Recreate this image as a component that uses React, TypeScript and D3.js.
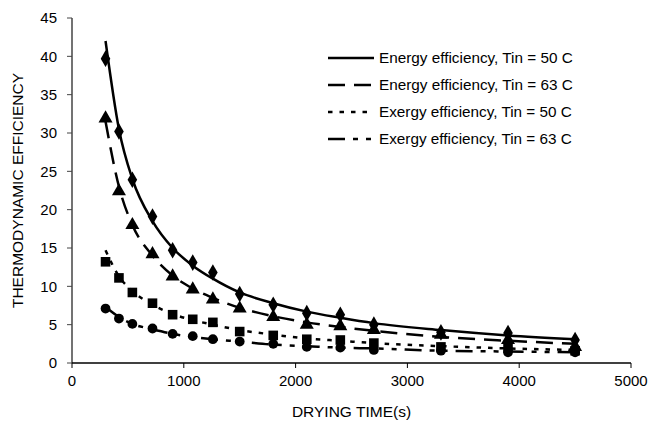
import React from "react";
import * as d3 from "d3";

// Drying time (s) at which efficiencies were measured
const times = [300, 420, 540, 720, 900, 1080, 1260, 1500, 1800, 2100, 2400, 2700, 3300, 3900, 4500];

// Measured points
const energy50 = [39.7, 30.2, 23.9, 19.1, 14.7, 13.1, 11.8, 9.0, 7.6, 6.5, 6.3, 5.0, 4.0, 3.9, 3.0];
const energy63 = [31.9, 22.4, 18.0, 14.2, 11.3, 9.6, 8.3, 7.1, 6.0, 5.0, 4.8, 4.3, 3.7, 3.0, 2.1];
const exergy50 = [13.2, 11.1, 9.2, 7.8, 6.3, 5.7, 5.3, 4.1, 3.6, 3.1, 3.0, 2.6, 2.1, 2.0, 1.6];
const exergy63 = [7.1, 5.8, 5.1, 4.5, 3.8, 3.5, 3.1, 2.8, 2.5, 2.1, 2.0, 1.7, 1.6, 1.4, 1.4];

// Trend curves through each series
const energy50Fit = [42.0, 30.5, 24.0, 18.5, 15.0, 12.7, 11.0, 9.2, 7.8, 6.7, 5.9, 5.2, 4.3, 3.6, 3.1];
const energy63Fit = [31.5, 23.0, 18.0, 14.0, 11.4, 9.7, 8.5, 7.2, 6.1, 5.3, 4.7, 4.2, 3.4, 2.9, 2.5];
const exergy50Fit = [14.7, 11.3, 9.4, 7.6, 6.4, 5.6, 5.0, 4.3, 3.7, 3.2, 2.9, 2.6, 2.2, 1.9, 1.7];
const exergy63Fit = [7.3, 6.0, 5.1, 4.4, 3.8, 3.4, 3.1, 2.8, 2.4, 2.2, 2.0, 1.9, 1.6, 1.5, 1.4];

const seriesNames = [
  "Energy efficiency, Tin = 50 C",
  "Energy efficiency, Tin = 63 C",
  "Exergy efficiency, Tin = 50 C",
  "Exergy efficiency, Tin = 63 C",
];

const xTicks = [0, 1000, 2000, 3000, 4000, 5000];
const yTicks = [0, 5, 10, 15, 20, 25, 30, 35, 40, 45];

const W = 669;
const H = 426;
const M = { left: 72, right: 38, top: 18, bottom: 63 };

const series = [
  { name: seriesNames[0], pts: energy50, fit: energy50Fit, dash: "none", marker: "diamond" },
  { name: seriesNames[1], pts: energy63, fit: energy63Fit, dash: "17 9", marker: "triangle" },
  { name: seriesNames[2], pts: exergy50, fit: exergy50Fit, dash: "4.5 7", marker: "square" },
  { name: seriesNames[3], pts: exergy63, fit: exergy63Fit, dash: "17 8 5 8 5 8", marker: "circle" },
];

const symbolType: Record<string, d3.SymbolType> = {
  diamond: d3.symbolDiamond,
  triangle: d3.symbolTriangle,
  square: d3.symbolSquare,
  circle: d3.symbolCircle,
};
const symbolSize: Record<string, number> = {
  diamond: 80,
  triangle: 85,
  square: 92,
  circle: 75,
};

export default function App() {
  const x = d3.scaleLinear().domain([0, 5000]).range([M.left, W - M.right]);
  const y = d3.scaleLinear().domain([0, 45]).range([H - M.bottom, M.top]);
  const line = d3
    .line<number>()
    .x((_, i) => x(times[i]))
    .y((v) => y(v))
    .curve(d3.curveMonotoneX);

  const font = "'Liberation Sans', Arial, sans-serif";
  const x0 = y.range()[0];

  return (
    <svg width={W} height={H} style={{ position: "absolute", left: 0, top: 0, background: "#fff" }} fontFamily={font}>
      {/* axes */}
      <line x1={M.left} x2={M.left} y1={M.top} y2={x0} stroke="#444" strokeWidth={1.5} />
      <line x1={M.left} x2={W - M.right} y1={x0} y2={x0} stroke="#000" strokeWidth={1.5} />
      {yTicks.map((t) => (
        <g key={"y" + t}>
          <line x1={M.left - 5} x2={M.left} y1={y(t)} y2={y(t)} stroke="#444" strokeWidth={1} />
          <text x={M.left - 15} y={y(t)} dy="0.35em" textAnchor="end" fontSize={15} fill="#000">
            {t}
          </text>
        </g>
      ))}
      {xTicks.map((t) => (
        <g key={"x" + t}>
          <line x1={x(t)} x2={x(t)} y1={x0} y2={x0 + 5} stroke="#000" strokeWidth={1} />
          <text x={x(t)} y={x0 + 23} textAnchor="middle" fontSize={15} fill="#000">
            {t}
          </text>
        </g>
      ))}
      <text x={(M.left + W - M.right) / 2} y={417} textAnchor="middle" fontSize={15.5}>
        DRYING TIME(s)
      </text>
      <text
        transform={`translate(23, ${(M.top + x0) / 2}) rotate(-90)`}
        textAnchor="middle"
        fontSize={15.5}
      >
        THERMODYNAMIC EFFICIENCY
      </text>

      {/* trend curves */}
      {series.map((s) => (
        <path
          key={"l" + s.name}
          d={line(s.fit) || ""}
          fill="none"
          stroke="#000"
          strokeWidth={2.5}
          strokeDasharray={s.dash}
        />
      ))}

      {/* data markers */}
      {series.map((s) =>
        s.pts.map((v, i) => (
          <path
            key={s.name + i}
            d={d3.symbol().type(symbolType[s.marker]).size(symbolSize[s.marker])() || ""}
            transform={`translate(${x(times[i])},${y(v)})`}
            fill="#000"
          />
        ))
      )}

      {/* legend */}
      {series.map((s, i) => {
        const ly = 58 + i * 27;
        return (
          <g key={"lg" + s.name}>
            <line x1={328} x2={374} y1={ly} y2={ly} stroke="#000" strokeWidth={2.5} strokeDasharray={s.dash} />
            <text x={379} y={ly} dy="0.35em" fontSize={15.3}>
              {s.name}
            </text>
          </g>
        );
      })}
    </svg>
  );
}
